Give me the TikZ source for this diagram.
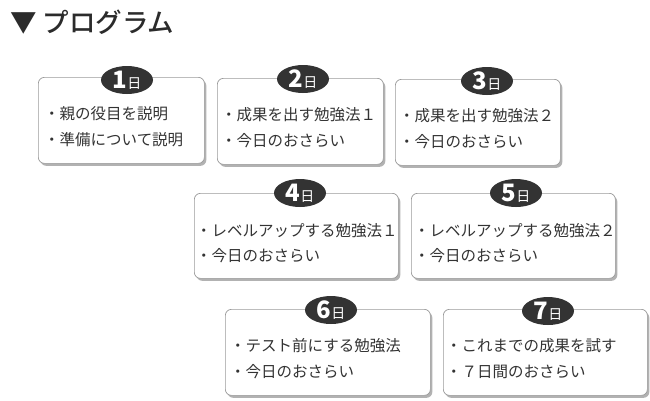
\documentclass[tikz,border=0pt]{standalone}
\usepackage{fontspec}
\setmainfont{Noto Sans CJK JP}
\newfontfamily\titlefont{Noto Sans CJK JP}[UprightFont={* Medium}]
\usetikzlibrary{shadows,shapes.geometric}
\definecolor{ink}{HTML}{333333}
\definecolor{boxline}{HTML}{9A9A9A}
\tikzset{
  daybox/.style={draw=boxline, line width=0.7pt, fill=white, rounded corners=6pt,
    drop shadow={shadow xshift=2pt, shadow yshift=-2.5pt, fill=black!60, opacity=0.5},
    anchor=north west, inner sep=0pt},
  badge/.style={ellipse, fill=ink, minimum width=52pt, minimum height=28pt, inner sep=0pt, text=white},
  item/.style={anchor=west, font=\fontsize{15.5}{15.5}\selectfont, text=ink, inner sep=0pt},
  titletext/.style={anchor=west, font=\fontsize{26.5}{26.5}\titlefont, text=ink!85!black, inner sep=0pt}
}
\newcommand{\daynum}[1]{{\fontsize{24}{24}\selectfont\bfseries #1}{\fontsize{14}{14}\selectfont 日}}
\begin{document}
\begin{tikzpicture}[x=1pt,y=-1pt]
\useasboundingbox (0,0) rectangle (650,400);
\fill[white] (0,0) rectangle (650,400);
\node[titletext] (title) at (10,22) {▼ プログラム};
% boxes
\node[daybox, minimum width=166pt, minimum height=86pt] (d1) at (38,77) {};
\node[daybox, minimum width=166pt, minimum height=86pt] (d2) at (217,78) {};
\node[daybox, minimum width=165pt, minimum height=86pt] (d3) at (395,79) {};
\node[daybox, minimum width=204pt, minimum height=85pt] (d4) at (194,193) {};
\node[daybox, minimum width=204pt, minimum height=85pt] (d5) at (411,193) {};
\node[daybox, minimum width=205pt, minimum height=86pt] (d6) at (225,309) {};
\node[daybox, minimum width=204pt, minimum height=86pt] (d7) at (443,309) {};
% badges
\node[badge] (b1) at (127,80) {\daynum{1}};
\node[badge] (b2) at (303,79) {\daynum{2}};
\node[badge] (b3) at (487,81) {\daynum{3}};
\node[badge] (b4) at (300,193) {\daynum{4}};
\node[badge] (b5) at (516,193) {\daynum{5}};
\node[badge] (b6) at (331,310) {\daynum{6}};
\node[badge] (b7) at (548,311) {\daynum{7}};
% items
\node[item] (t1a) at ([xshift=6pt,yshift=-37pt]d1.north west) {・親の役目を説明};
\node[item] (t1b) at ([xshift=6pt,yshift=-63pt]d1.north west) {・準備について説明};
\node[item] (t2a) at ([xshift=4pt,yshift=-37pt]d2.north west) {・成果を出す勉強法１};
\node[item] (t2b) at ([xshift=4pt,yshift=-63pt]d2.north west) {・今日のおさらい};
\node[item] (t3a) at ([xshift=4pt,yshift=-37pt]d3.north west) {・成果を出す勉強法２};
\node[item] (t3b) at ([xshift=4pt,yshift=-63pt]d3.north west) {・今日のおさらい};
\node[item] (t4a) at ([xshift=2pt,yshift=-38pt]d4.north west) {・レベルアップする勉強法１};
\node[item] (t4b) at ([xshift=2pt,yshift=-63pt]d4.north west) {・今日のおさらい};
\node[item] (t5a) at ([xshift=3pt,yshift=-38pt]d5.north west) {・レベルアップする勉強法２};
\node[item] (t5b) at ([xshift=3pt,yshift=-63pt]d5.north west) {・今日のおさらい};
\node[item] (t6a) at ([xshift=5pt,yshift=-37pt]d6.north west) {・テスト前にする勉強法};
\node[item] (t6b) at ([xshift=5pt,yshift=-63pt]d6.north west) {・今日のおさらい};
\node[item] (t7a) at ([xshift=3pt,yshift=-37pt]d7.north west) {・これまでの成果を試す};
\node[item] (t7b) at ([xshift=3pt,yshift=-63pt]d7.north west) {・７日間のおさらい};
\end{tikzpicture}
\end{document}
